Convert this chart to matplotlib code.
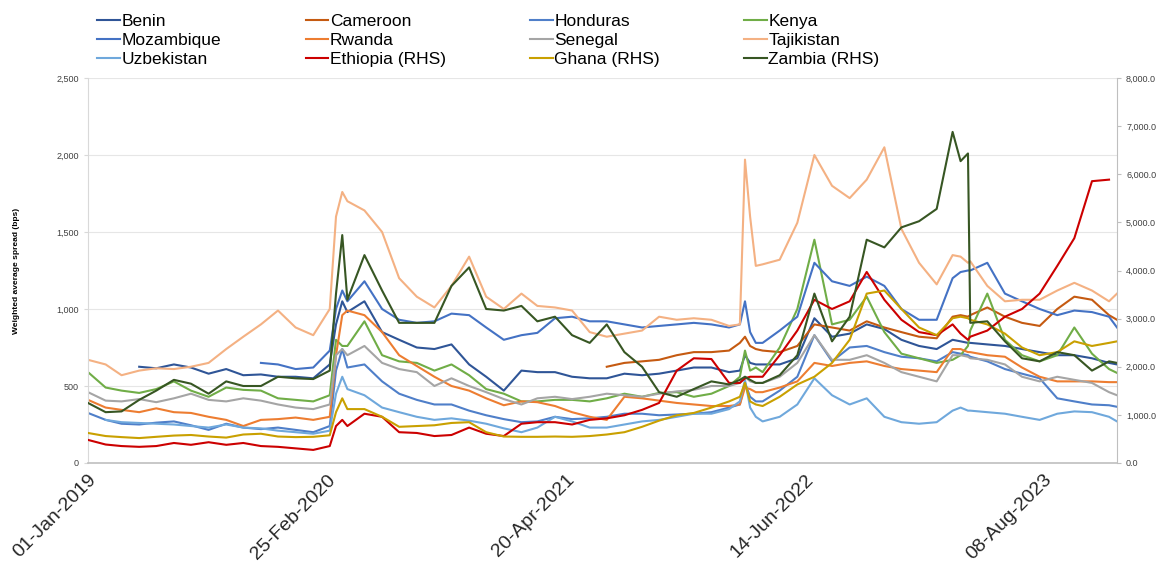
import numpy as np
import pandas as pd
import matplotlib
matplotlib.use('Agg')
import matplotlib.pyplot as plt
from matplotlib.ticker import FuncFormatter, MultipleLocator

plt.rcParams['font.family'] = ['Liberation Sans', 'DejaVu Sans']

nan = np.nan

# month starts plus a few extra dates around the sharp moves
monthly = pd.date_range('2019-01-01', '2023-12-01', freq='MS')
extra = pd.to_datetime(['2020-03-12', '2020-03-23', '2022-02-20', '2022-03-10',
                        '2022-03-20', '2023-03-15', '2023-03-28', '2023-12-15'])
dates = monthly.append(extra).sort_values()

# left axis series, bps
# rows: 2019 | 2020 (Mar 12, Mar 23 added) | 2021 | 2022 (Feb 20, Mar 10, Mar 20 added) | 2023 (Mar 15, Mar 28, Dec 15 added)
benin = ([nan, nan, nan, 625, 615, 640, 620, 580, 610, 570, 575, 560]
         + [560, 550, 640, 900, 1050, 980, 1050, 850, 800, 750, 740, 770, 640, 560]
         + [470, 600, 590, 590, 560, 550, 550, 580, 570, 580, 600, 620]
         + [620, 590, 600, 700, 650, 640, 640, 640, 680, 940, 820, 840, 900, 870, 800]
         + [760, 740, 800, 790, 780, 780, 770, 760, 740, 720, 700, 700, 680, 650, 640])
cameroon = ([nan] * 12
            + [nan] * 14
            + [nan, nan, nan, nan, nan, nan, 625, 650, 660, 670, 700, 720]
            + [720, 730, 780, 820, 760, 740, 730, 720, 760, 900, 880, 860, 920, 880, 850]
            + [820, 810, 950, 960, 950, 960, 1010, 950, 910, 890, 1000, 1080, 1060, 960, 930])
honduras = ([325, 280, 255, 250, 262, 270, 245, 215, 255, 230, 220, 230]
            + [215, 200, 240, 600, 740, 620, 640, 530, 450, 410, 380, 380, 340, 310]
            + [285, 265, 270, 300, 285, 290, 300, 320, 320, 310, 315, 320]
            + [330, 360, 380, 520, 430, 400, 400, 470, 560, 830, 660, 750, 760, 720, 690]
            + [680, 660, 720, 710, 700, 690, 660, 610, 580, 550, 420, 400, 380, 375, 365])
kenya = ([590, 490, 470, 455, 480, 530, 470, 430, 490, 475, 470, 420]
         + [410, 400, 440, 800, 760, 760, 920, 700, 660, 650, 600, 640, 570, 480]
         + [450, 400, 400, 410, 410, 400, 420, 450, 430, 455, 460, 430]
         + [450, 500, 560, 730, 600, 620, 590, 750, 1000, 1450, 900, 930, 1080, 850, 710]
         + [680, 650, 670, 700, 760, 860, 1100, 800, 700, 660, 700, 880, 710, 610, 585])
mozambique = ([nan] * 10 + [650, 640]
              + [610, 620, 730, 1000, 1120, 1050, 1180, 1000, 930, 910, 920, 970, 960, 880]
              + [800, 830, 845, 940, 950, 920, 920, 900, 880, 890, 900, 910]
              + [900, 880, 900, 1050, 850, 780, 780, 860, 950, 1300, 1180, 1150, 1210, 1150, 1000]
              + [930, 930, 1200, 1240, 1250, 1250, 1300, 1100, 1050, 1000, 960, 990, 980, 950, 880])
rwanda = ([410, 360, 345, 330, 355, 330, 325, 300, 280, 240, 280, 285]
          + [295, 280, 300, 700, 960, 990, 960, 850, 700, 630, 560, 500, 470, 420]
          + [375, 400, 395, 370, 330, 300, 280, 430, 420, 405, 390, 380]
          + [370, 370, 380, 490, 480, 460, 460, 490, 530, 650, 630, 650, 660, 630, 610]
          + [600, 590, 740, 740, 720, 720, 700, 690, 620, 560, 530, 530, 530, 525, 525])
senegal = ([460, 405, 400, 415, 395, 420, 450, 410, 400, 420, 405, 380]
           + [360, 350, 380, 700, 740, 700, 760, 650, 610, 590, 500, 550, 500, 460]
           + [415, 380, 420, 430, 415, 430, 450, 440, 430, 450, 465, 475]
           + [500, 500, 520, 560, 530, 520, 520, 560, 650, 830, 670, 670, 700, 650, 590]
           + [560, 530, 700, 700, 690, 680, 670, 640, 560, 530, 560, 540, 520, 460, 440])
tajikistan = ([670, 640, 570, 600, 615, 610, 625, 650, 740, 820, 900, 990]
              + [880, 830, 1000, 1600, 1760, 1700, 1640, 1500, 1200, 1080, 1010, 1150, 1340, 1080]
              + [1000, 1100, 1020, 1010, 990, 850, 820, 840, 860, 950, 930, 940]
              + [930, 890, 900, 1970, 1600, 1280, 1290, 1320, 1560, 2000, 1800, 1720, 1840, 2050, 1520]
              + [1300, 1160, 1350, 1340, 1300, 1310, 1150, 1050, 1060, 1060, 1120, 1170, 1120, 1050, 1100])
uzbekistan = ([nan, 280, 265, 260, 255, 250, 240, 230, 250, 230, 225, 210]
              + [200, 190, 210, 450, 560, 480, 440, 360, 330, 300, 280, 290, 275, 255]
              + [225, 200, 230, 300, 270, 230, 230, 250, 270, 280, 300, 320]
              + [320, 350, 400, 540, 360, 300, 270, 300, 380, 550, 440, 380, 420, 300, 265]
              + [255, 265, 340, 360, 340, 340, 330, 320, 300, 280, 320, 335, 330, 300, 270])

# right axis series, bps
ethiopia = ([480, 384, 352, 336, 352, 416, 378, 432, 378, 416, 352, 336]
            + [304, 272, 352, 768, 896, 768, 1024, 960, 640, 624, 560, 582, 736, 608]
            + [560, 816, 848, 848, 800, 896, 928, 992, 1104, 1248, 1920, 2176]
            + [2160, 1664, 1664, 1760, 1792, 1792, 1792, 2240, 2752, 3392, 3200, 3360, 3970, 3392, 2976]
            + [2720, 2656, 2880, 2688, 2560, 2624, 2752, 3040, 3200, 3520, 4096, 4672, 5856, 5888, nan])
ghana = ([624, 560, 538, 518, 544, 570, 582, 550, 528, 592, 608, 550]
         + [538, 544, 576, 1056, 1344, 1120, 1120, 960, 752, 768, 784, 832, 848, 640]
         + [550, 544, 544, 550, 544, 560, 592, 640, 752, 880, 992, 1040]
         + [1152, 1280, 1376, 1664, 1280, 1216, 1184, 1376, 1632, 1792, 2080, 2560, 3520, 3584, 3200]
         + [2816, 2656, 3008, 3040, 3008, 2976, 2880, 2688, 2400, 2240, 2304, 2528, 2432, 2496, 2528])
zambia = ([1248, 1056, 1072, 1312, 1504, 1728, 1648, 1440, 1696, 1600, 1600, 1792]
          + [1760, 1744, 1920, 3520, 4736, 3392, 4320, 3584, 2912, 2912, 2912, 3680, 4064, 3200]
          + [3168, 3264, 2944, 3040, 2656, 2496, 2880, 2304, 2000, 1472, 1376, 1536]
          + [1696, 1632, 1728, 1792, 1728, 1664, 1664, 1824, 2240, 3520, 2528, 3040, 4640, 4480, 4896]
          + [5024, 5280, 6880, 6272, 6432, 2912, 2944, 2528, 2176, 2112, 2304, 2240, 1920, 2112, 2080])

left_series = [
    ('Benin', benin, '#2F5597'),
    ('Cameroon', cameroon, '#C55A11'),
    ('Honduras', honduras, '#4F7FC9'),
    ('Kenya', kenya, '#70AD47'),
    ('Mozambique', mozambique, '#4472C4'),
    ('Rwanda', rwanda, '#ED7D31'),
    ('Senegal', senegal, '#A5A5A5'),
    ('Tajikistan', tajikistan, '#F4B183'),
    ('Uzbekistan', uzbekistan, '#6FA8DC'),
]
right_series = [
    ('Ethiopia (RHS)', ethiopia, '#CC0000'),
    ('Ghana (RHS)', ghana, '#C9A000'),
    ('Zambia (RHS)', zambia, '#375623'),
]

tick_dates = pd.to_datetime(['2019-01-01', '2020-02-25', '2021-04-20', '2022-06-14', '2023-08-08'])

fig = plt.figure(figsize=(11.64, 5.66), dpi=100)
ax = fig.add_axes([88 / 1164, 1 - 463 / 566, (1117 - 88) / 1164, (463 - 78) / 566])
ax2 = ax.twinx()

handles = []
for name, vals, col in left_series:
    ln, = ax.plot(dates, vals, color=col, lw=1.5, label=name)
    handles.append(ln)
for name, vals, col in right_series:
    ln, = ax2.plot(dates, vals, color=col, lw=1.5, label=name)
    handles.append(ln)

ax.set_xlim(pd.Timestamp('2019-01-01'), pd.Timestamp('2023-12-15'))
ax.set_ylim(0, 2500)
ax2.set_ylim(0, 8000)
ax.yaxis.set_major_locator(MultipleLocator(500))
ax2.yaxis.set_major_locator(MultipleLocator(1000))
ax.yaxis.set_major_formatter(FuncFormatter(lambda v, p: f'{v:,.0f}'))
ax2.yaxis.set_major_formatter(FuncFormatter(lambda v, p: f'{v:,.1f}'))

ax.set_xticks(tick_dates)
ax.set_xticklabels([d.strftime('%d-%b-%Y') for d in tick_dates],
                   rotation=45, ha='right', rotation_mode='anchor', fontsize=14)
ax.tick_params(axis='x', length=0, pad=6, colors='#262626')

ax.grid(axis='y', color='#E6E6E6', lw=0.8)
ax.set_axisbelow(True)

for a in (ax, ax2):
    a.spines['top'].set_visible(False)
ax.spines['right'].set_visible(False)
ax2.spines['left'].set_visible(False)
ax2.spines['bottom'].set_visible(False)
ax.spines['left'].set_color('#D9D9D9')
ax.spines['bottom'].set_color('#BFBFBF')
ax.spines['bottom'].set_linewidth(1.2)
ax2.spines['right'].set_color('#BFBFBF')

ax.tick_params(axis='y', labelsize=6.5, labelcolor='#404040', color='#D9D9D9', length=3)
ax2.tick_params(axis='y', labelsize=6.5, labelcolor='#404040', color='#BFBFBF', length=3)

ax.set_ylabel('Weighted average spread (bps)', fontsize=6, fontweight='bold')
ax.yaxis.set_label_coords((20 - 88) / 1029, 0.5)

# legend filled row by row, four per row
order = [0, 4, 8, 1, 5, 9, 2, 6, 10, 3, 7, 11]
fig.legend([handles[i] for i in order], [handles[i].get_label() for i in order],
           ncol=4, loc='upper left', bbox_to_anchor=(0.074, 0.995), frameon=False,
           fontsize=12.5, handlelength=1.3, handletextpad=0.1, columnspacing=4.85,
           labelspacing=0.22, borderaxespad=0.25)

fig.savefig('out.png', dpi=100)
